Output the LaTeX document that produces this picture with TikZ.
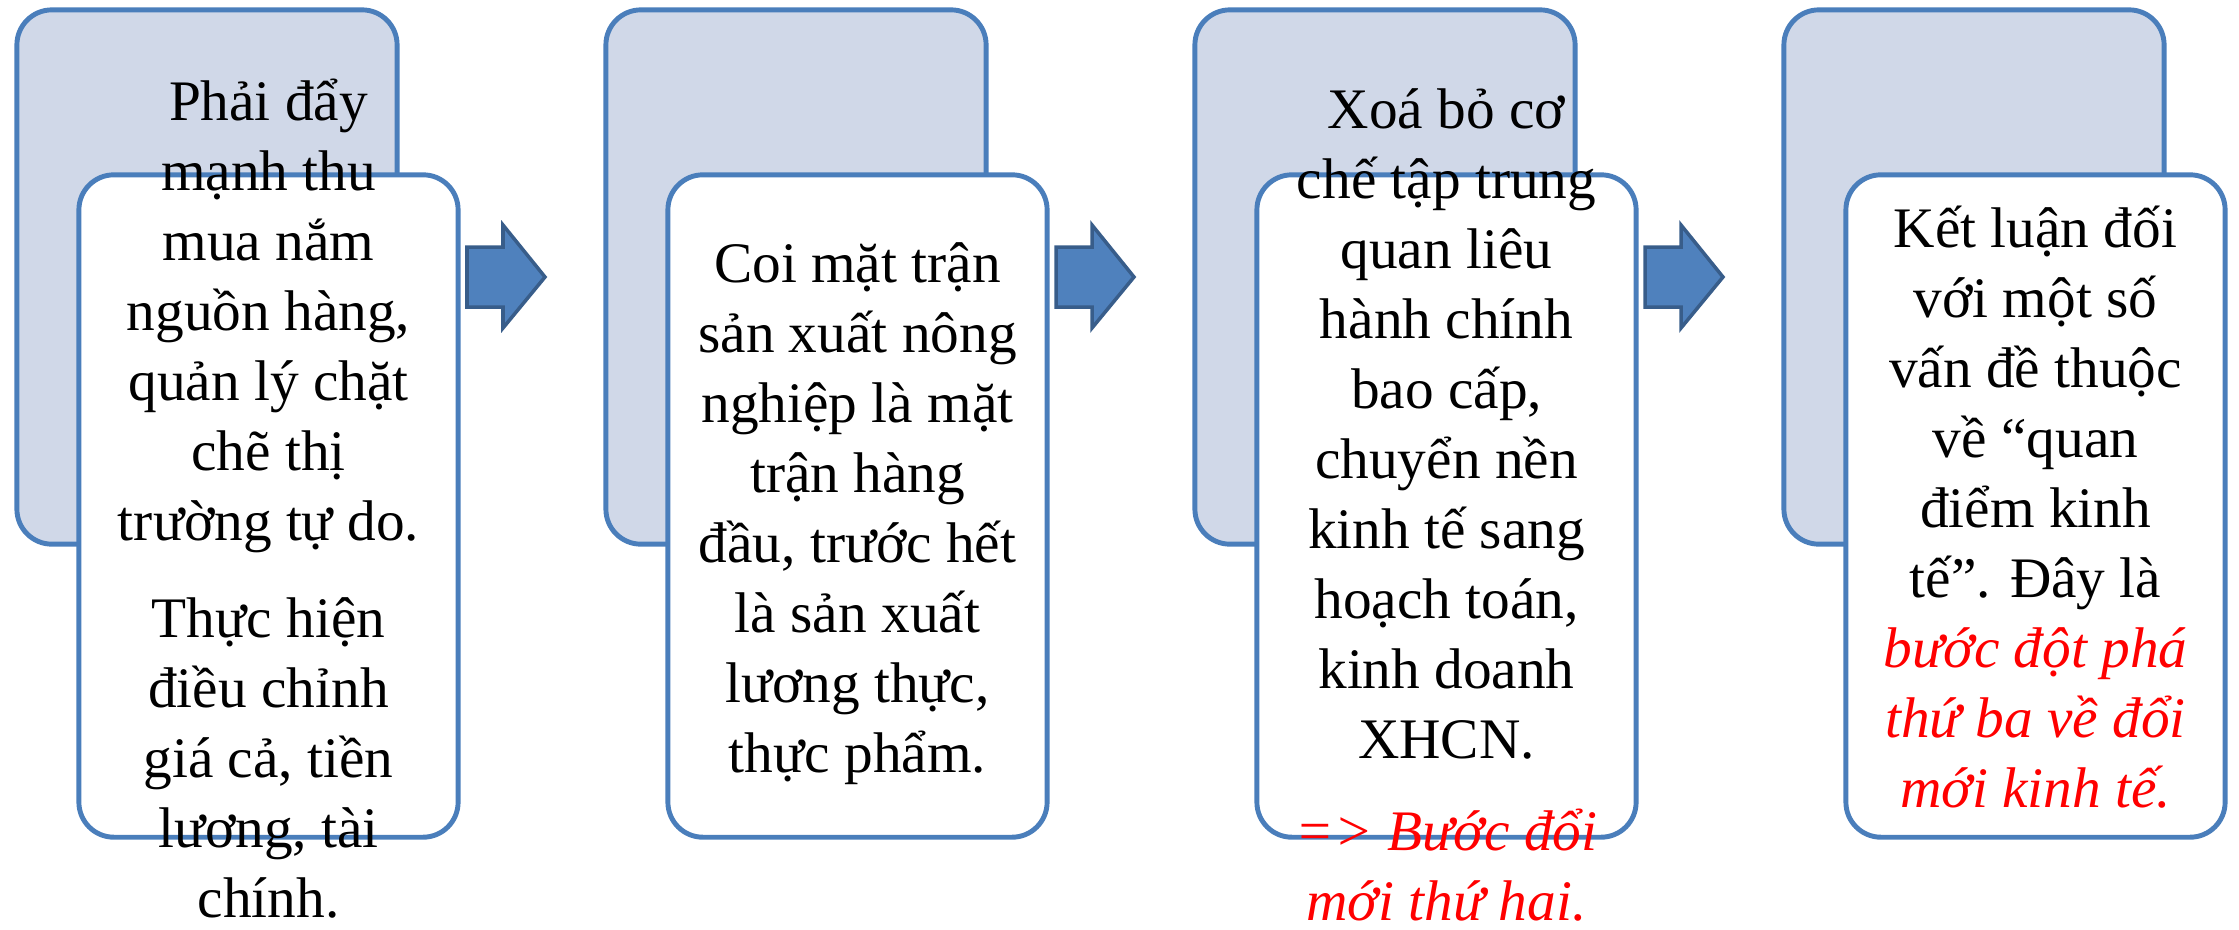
\documentclass[tikz,border=0pt]{standalone}
\usepackage{fontspec}
\setmainfont{Liberation Serif}
\usetikzlibrary{positioning}

\definecolor{boxline}{HTML}{4A7EBB}
\definecolor{backfill}{HTML}{D0D8E8}
\definecolor{arrowfill}{HTML}{4F81BD}
\definecolor{arrowline}{HTML}{385D8A}
\newcommand{\redit}[1]{\textcolor{red}{\textit{#1}}}

\tikzset{
  backbox/.style={draw=boxline, fill=backfill, line width=1.4pt, rounded corners=0.35cm,
    minimum width=3.80cm, minimum height=5.34cm, inner sep=0pt},
  frontbox/.style={draw=boxline, fill=white, line width=1.4pt, rounded corners=0.35cm,
    minimum width=3.79cm, minimum height=6.62cm, inner sep=0pt},
  boxtext/.style={align=center, anchor=base, inner sep=0pt,
    font=\fontsize{16.3pt}{19.9pt}\selectfont},
  blockarrow/.style={draw=arrowline, fill=arrowfill, line width=1pt, line join=miter}
}

\begin{document}
\begin{tikzpicture}[x=0.01cm, y=-0.01cm]
  \useasboundingbox (0,0) rectangle (2239,929);

  % first step
  \node[backbox] (back1) at (207,277) {};
  \node[frontbox] (front1) at (268.5,506) {};
  \node[boxtext] (text1) at (268.5,917) {Phải đẩy\\mạnh thu\\mua nắm\\nguồn hàng,\\quản lý chặt\\chẽ thị\\trường tự do.\\[0.27cm]Thực hiện\\điều chỉnh\\giá cả, tiền\\lương, tài\\chính.};
  \draw[blockarrow] (467,247) -- (503,247) -- (503,225) -- (545,277) -- (503,328) -- (503,307) -- (467,307) -- cycle;

  % second step
  \node[backbox] (back2) at (796,277) {};
  \node[frontbox] (front2) at (857.5,506) {};
  \node[boxtext] (text2) at (857.5,772) {Coi mặt trận\\sản xuất nông\\nghiệp là mặt\\trận hàng\\đầu, trước hết\\là sản xuất\\lương thực,\\thực phẩm.};
  \draw[blockarrow] (1056,247) -- (1092,247) -- (1092,225) -- (1134,277) -- (1092,328) -- (1092,307) -- (1056,307) -- cycle;

  % third step
  \node[backbox] (back3) at (1385,277) {};
  \node[frontbox] (front3) at (1446.5,506) {};
  \node[boxtext] (text3) at (1446.5,920) {Xoá bỏ cơ\\chế tập trung\\quan liêu\\hành chính\\bao cấp,\\chuyển nền\\kinh tế sang\\hoạch toán,\\kinh doanh\\XHCN.\\[0.22cm]\redit{=> Bước đổi}\\\redit{mới thứ hai.}};
  \draw[blockarrow] (1645,247) -- (1681,247) -- (1681,225) -- (1723,277) -- (1681,328) -- (1681,307) -- (1645,307) -- cycle;

  % fourth step
  \node[backbox] (back4) at (1974,277) {};
  \node[frontbox] (front4) at (2035.5,506) {};
  \node[boxtext] (text4) at (2035.5,807) {Kết luận đối\\với một số\\vấn đề thuộc\\về “quan\\điểm kinh\\tế”. Đây là\\\redit{bước đột phá}\\\redit{thứ ba về đổi}\\\redit{mới kinh tế.}};
\end{tikzpicture}
\end{document}
